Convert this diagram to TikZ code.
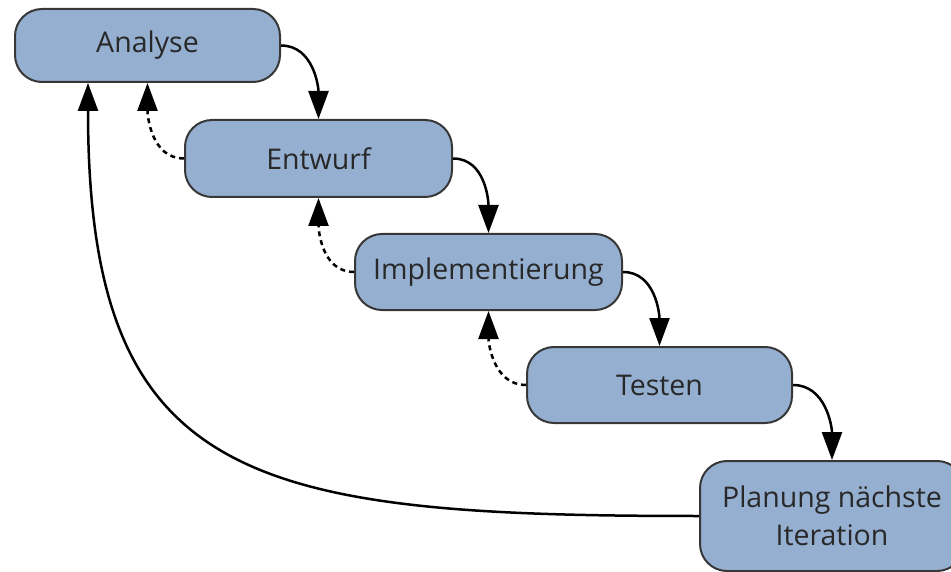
\documentclass[tikz,border=0pt]{standalone}
\usepackage{fontspec}
\setmainfont{Open Sans}
\usetikzlibrary{arrows.meta}
\definecolor{boxfill}{RGB}{149,175,209}
\definecolor{boxline}{RGB}{55,55,55}
\definecolor{txt}{RGB}{40,40,40}
\begin{document}
\begin{tikzpicture}[x=1pt,y=1pt,
  phase/.style={draw=boxline, fill=boxfill, line width=2pt, rounded corners=27pt,
    text=txt, font=\fontsize{28.5}{38}\selectfont, inner sep=0pt, align=center},
  flow/.style={line width=2.5pt, -{Triangle[length=28pt,width=20pt]}},
  back/.style={flow, dash pattern=on 5pt off 4pt}]
\useasboundingbox (0,0) rectangle (951,-572);
\node[phase, minimum width=265pt, minimum height=73pt] (a) at (147.5,-45.5) {Analyse};
\node[phase, minimum width=267pt, minimum height=77pt] (e) at (318.5,-158.5) {Entwurf};
\node[phase, minimum width=267pt, minimum height=76pt] (i) at (488.5,-272) {Implementierung};
\node[phase, minimum width=265pt, minimum height=76pt] (t) at (659.5,-385) {Testen};
\node[phase, minimum width=264pt, minimum height=110pt] (p) at (832,-516) {Planung nächste\\Iteration};
\coordinate (ain) at ([xshift=-59.5pt]a.south);
\draw[flow] (a.east) to[out=0,in=90] (e.north);
\draw[flow] (e.east) to[out=0,in=90] (i.north);
\draw[flow] (i.east) to[out=0,in=90] (t.north);
\draw[flow] (t.east) to[out=0,in=90] (p.north);
\draw[back] (e.west) to[out=180,in=-90] (a.south);
\draw[back] (i.west) to[out=180,in=-90] (e.south);
\draw[back] (t.west) to[out=180,in=-90] (i.south);
\draw[flow] (p.west) .. controls +(-450,0) and +(0,-400) .. (ain);
\end{tikzpicture}
\end{document}
